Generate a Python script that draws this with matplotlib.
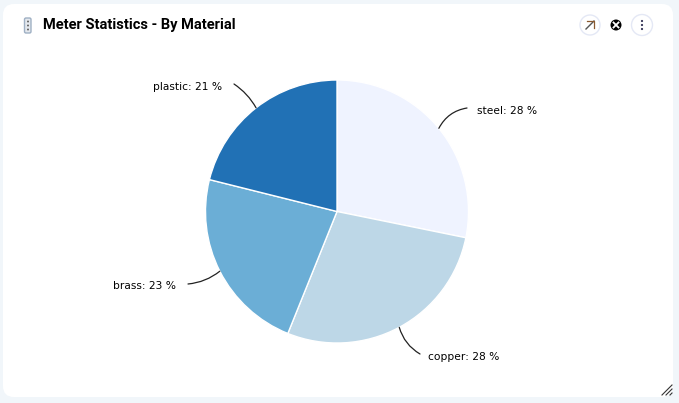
import numpy as np
import matplotlib
matplotlib.use('Agg')
import matplotlib.pyplot as plt
from matplotlib.patches import FancyBboxPatch, Circle

# chart data
materials = ['steel', 'copper', 'brass', 'plastic']
shares = [28.2, 27.9, 22.8, 21.1]
colors = ['#eff3ff', '#bdd7e7', '#6baed6', '#2171b5']
title = 'Meter Statistics - By Material'

W, H = 679, 403


def fy(y):
    # pixel row from the top -> axes y
    return H - y


fig = plt.figure(figsize=(W / 100, H / 100), dpi=100, facecolor='#f1f6fa')
ax = fig.add_axes([0, 0, 1, 1])

# white card
ax.add_patch(FancyBboxPatch((3, fy(397)), 670, 393,
                            boxstyle='round,pad=0,rounding_size=11',
                            fc='white', ec='none', zorder=0))

# pie
cx, cy, r = 337, fy(211.5), 131.5
wedges, _ = ax.pie(shares, colors=colors, startangle=90, counterclock=False,
                   center=(cx, cy), radius=r,
                   wedgeprops=dict(edgecolor='white', linewidth=1))

# labels and leader lines (text x, text y, end of leader, curve)
label_pos = {
    'steel': (477, 111.5, 'left', (467, 108), 0.25),
    'copper': (428, 356.5, 'left', (420, 354), -0.2),
    'brass': (176, 286, 'right', (188, 284), 0.15),
    'plastic': (222, 86.5, 'right', (234, 84), -0.12),
}
for w, name, val in zip(wedges, materials, shares):
    tx, ty, ha, end, rad = label_pos[name]
    mid = np.deg2rad((w.theta1 + w.theta2) / 2)
    ax.annotate('', xy=(cx + r * np.cos(mid), cy + r * np.sin(mid)),
                xytext=(end[0], fy(end[1])),
                arrowprops=dict(arrowstyle='-', color='#222222', lw=0.9,
                                shrinkA=0, shrinkB=0,
                                connectionstyle='arc3,rad=%g' % rad))
    ax.text(tx, fy(ty), '%s: %d %%' % (name, round(val)), ha=ha, va='center',
            fontsize=7.7, family='DejaVu Sans', color='black')

# header
ax.text(43, fy(24.5), title, fontsize=10.5, fontweight='bold', family='Roboto',
        color='black', va='center', ha='left')
ax.add_patch(FancyBboxPatch((24.5, fy(33)), 6.5, 15, boxstyle='round,pad=0,rounding_size=1.5',
                            fc='#e4e8ee', ec='#9fb0c4', lw=1))
for y in (21.5, 25.5, 29.5):
    ax.add_patch(Circle((28, fy(y)), 1, fc='#666666', ec='none'))

ax.add_patch(Circle((590, fy(25)), 10, fc='white', ec='#e4e8f5', lw=1))
ax.plot([586, 594], [fy(29), fy(21)], color='#555555', lw=1)
ax.plot([587, 594, 594], [fy(21), fy(21), fy(28)], color='#8a5a30', lw=0.9)
ax.add_patch(Circle((616, fy(25)), 5.5, fc='black', ec='none'))
ax.plot([613.5, 618.5], [fy(22.5), fy(27.5)], color='white', lw=1.3)
ax.plot([613.5, 618.5], [fy(27.5), fy(22.5)], color='white', lw=1.3)
ax.add_patch(Circle((642, fy(25)), 10.5, fc='white', ec='#e4e8f5', lw=1))
for y in (21, 25, 29):
    ax.add_patch(Circle((642, fy(y)), 1.1, fc='#333355', ec='none'))

# resize handle
for d in (0, 4, 8):
    ax.plot([662 + d, 672], [fy(395), fy(385 + d)], color='#333333', lw=0.8)

ax.set_xlim(0, W)
ax.set_ylim(0, H)
ax.set_aspect('auto')
ax.axis('off')
fig.savefig('out.png', dpi=100, facecolor=fig.get_facecolor())
